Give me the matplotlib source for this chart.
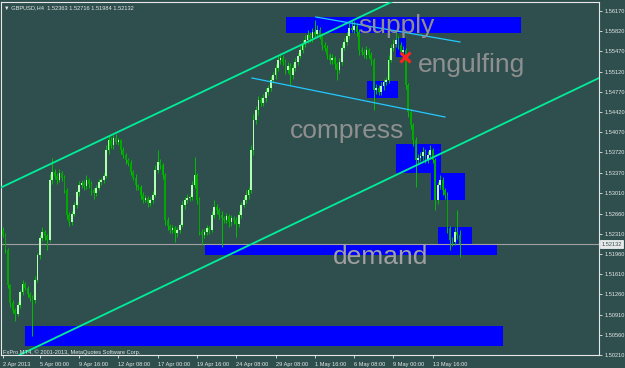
import numpy as np
import matplotlib
matplotlib.use("Agg")
import matplotlib.pyplot as plt
import matplotlib.transforms as mtransforms

# GBPUSD H4 candles, 2 Apr 2013 12:00 .. 15 May 2013
first_open = 1.5238
closes = [
    1.5229, 1.5203, 1.5142, 1.5111, 1.5099, 1.5092, 1.5108, 1.5130, 1.5144, 1.5137,
    1.5127, 1.5120, 1.5116, 1.5151, 1.5194, 1.5224, 1.5234, 1.5227, 1.5220, 1.5324,
    1.5338, 1.5331, 1.5324, 1.5336, 1.5328, 1.5307, 1.5264, 1.5251, 1.5265, 1.5281,
    1.5303, 1.5315, 1.5319, 1.5314, 1.5324, 1.5317, 1.5307, 1.5302, 1.5310, 1.5321,
    1.5324, 1.5331, 1.5376, 1.5393, 1.5385, 1.5397, 1.5390, 1.5393, 1.5376, 1.5367,
    1.5359, 1.5354, 1.5338, 1.5328, 1.5315, 1.5312, 1.5298, 1.5290, 1.5293, 1.5284,
    1.5290, 1.5298, 1.5341, 1.5355, 1.5350, 1.5333, 1.5255, 1.5244, 1.5238, 1.5241,
    1.5232, 1.5238, 1.5246, 1.5281, 1.5290, 1.5293, 1.5295, 1.5315, 1.5333, 1.5290,
    1.5234, 1.5229, 1.5234, 1.5241, 1.5238, 1.5264, 1.5277, 1.5272, 1.5264, 1.5258,
    1.5255, 1.5262, 1.5251, 1.5258, 1.5255, 1.5248, 1.5264, 1.5281, 1.5290, 1.5298,
    1.5307, 1.5376, 1.5428, 1.5445, 1.5463, 1.5458, 1.5466, 1.5477, 1.5484, 1.5497,
    1.5506, 1.5518, 1.5532, 1.5536, 1.5529, 1.5515, 1.5522, 1.5506, 1.5518, 1.5529,
    1.5539, 1.5549, 1.5560, 1.5567, 1.5575, 1.5570, 1.5581, 1.5577, 1.5584, 1.5574,
    1.5558, 1.5553, 1.5541, 1.5532, 1.5536, 1.5525, 1.5515, 1.5529, 1.5553, 1.5563,
    1.5574, 1.5588, 1.5584, 1.5591, 1.5581, 1.5549, 1.5546, 1.5541, 1.5549, 1.5541,
    1.5532, 1.5480, 1.5484, 1.5477, 1.5487, 1.5494, 1.5497, 1.5532, 1.5553, 1.5560,
    1.5567, 1.5558, 1.5546, 1.5549, 1.5489, 1.5442, 1.5419, 1.5393, 1.5359, 1.5362,
    1.5366, 1.5373, 1.5359, 1.5367, 1.5376, 1.5359, 1.5290, 1.5315, 1.5324, 1.5307,
    1.5298, 1.5241, 1.5220, 1.5217, 1.5234, 1.5229, 1.52132,
]
# wick lengths in pips above / below the body
upper_wick = [
    5, 3, 4, 2, 6, 3, 5, 4, 7, 3,
    4, 3, 5, 6, 4, 5, 8, 3, 4, 10,
    24, 6, 5, 8, 4, 5, 3, 4, 6, 5,
    4, 7, 5, 6, 8, 4, 5, 3, 6, 5,
    4, 6, 8, 9, 5, 5, 6, 4, 3, 5,
    4, 3, 5, 4, 6, 3, 4, 5, 6, 3,
    4, 7, 10, 21, 5, 4, 3, 5, 4, 6,
    3, 5, 4, 6, 5, 7, 4, 8, 31, 3,
    4, 5, 6, 5, 4, 7, 13, 5, 4, 6,
    4, 5, 3, 6, 4, 5, 7, 5, 6, 8,
    5, 9, 10, 8, 6, 5, 7, 6, 5, 8,
    6, 7, 9, 8, 5, 4, 6, 5, 7, 6,
    5, 7, 6, 8, 9, 5, 7, 20, 8, 5,
    4, 6, 5, 4, 6, 3, 4, 7, 6, 8,
    7, 9, 13, 8, 5, 4, 6, 5, 7, 4,
    5, 3, 6, 5, 7, 6, 5, 8, 7, 9,
    17, 6, 5, 8, 4, 3, 5, 4, 6, 8,
    7, 9, 5, 8, 9, 4, 3, 6, 8, 5,
    4, 5, 4, 6, 9, 38, 8,
]
lower_wick = [
    4, 6, 5, 7, 5, 12, 4, 6, 5, 4,
    6, 5, 62, 5, 4, 6, 5, 7, 17, 4,
    6, 5, 7, 4, 6, 5, 8, 7, 5, 4,
    5, 6, 4, 7, 5, 6, 8, 10, 5, 4,
    6, 5, 4, 6, 5, 7, 4, 5, 6, 5,
    7, 5, 6, 4, 8, 5, 7, 6, 4, 7,
    5, 6, 4, 5, 6, 7, 9, 7, 6, 5,
    15, 6, 5, 4, 7, 5, 6, 5, 4, 8,
    6, 17, 5, 6, 7, 4, 5, 6, 7, 50,
    6, 5, 8, 6, 7, 23, 5, 6, 4, 5,
    6, 5, 8, 7, 9, 6, 5, 7, 6, 5,
    4, 6, 5, 7, 6, 8, 5, 17, 6, 5,
    6, 4, 5, 6, 5, 7, 6, 5, 4, 6,
    8, 5, 7, 7, 6, 9, 18, 5, 6, 4,
    5, 6, 4, 5, 7, 8, 6, 5, 7, 6,
    8, 35, 7, 6, 5, 7, 6, 5, 4, 6,
    5, 7, 6, 5, 8, 9, 6, 10, 47, 6,
    5, 7, 6, 5, 7, 6, 18, 7, 6, 8,
    6, 9, 17, 8, 6, 7, 23,
]

# zones drawn on the chart: (bar from, bar to, price low, price high)
zone_x0 = [115.2, 160.0, 148.2, 160.0, 174.3, 177.1, 82.2, 9.0]
zone_x1 = [210.9, 164.1, 160.8, 178.3, 188.1, 191.0, 201.1, 203.6]
zone_lo = [1.55794, 1.55373, 1.54662, 1.53363, 1.52895, 1.52115, 1.51942, 1.50365]
zone_hi = [1.56071, 1.55702, 1.54957, 1.53865, 1.53363, 1.52427, 1.52115, 1.50711]

# trend lines: channel rays (green) and two short segments (cyan)
channel_up = [(-1.22, 1.53103), (153.5, 1.56231)]
channel_dn = [(11.0, 1.50296), (242.7, 1.55009)]
seg_top = [(127.4, 1.56066), (186.1, 1.55633)]
seg_bot = [(101.4, 1.55009), (180.0, 1.54333)]

last_price = 1.52132
engulf_bar, engulf_price = 163.7, 1.55373

ytick_vals = [1.56170, 1.55820, 1.55470, 1.55120, 1.54770, 1.54420, 1.54070, 1.53720,
              1.53370, 1.53010, 1.52660, 1.52310, 1.51960, 1.51610, 1.51260, 1.50910,
              1.50560, 1.50210]
xtick_bars = [0, 15, 31, 47, 63, 79, 95, 111, 127, 143, 159, 175]
xtick_labels = ["2 Apr 2013", "5 Apr 00:00", "9 Apr 16:00", "12 Apr 08:00", "17 Apr 00:00",
                "19 Apr 16:00", "24 Apr 08:00", "29 Apr 08:00", "1 May 16:00", "6 May 08:00",
                "9 May 00:00", "13 May 16:00"]

BG = "#2f4f4f"
FG = "#e8e8e8"
SMALL = ["Liberation Sans", "DejaVu Sans"]
FS = 4.1

plt.rcParams["font.family"] = SMALL

closes = np.array(closes)
opens = np.r_[first_open, closes[:-1]]
highs = np.maximum(opens, closes) + np.array(upper_wick) * 0.0001
lows = np.minimum(opens, closes) - np.array(lower_wick) * 0.0001
bars = np.arange(len(closes))

fig = plt.figure(figsize=(6.25, 3.68), dpi=100, facecolor=BG)
W, H = 625, 368
ax = fig.add_axes([1 / W, 1 - 355 / H, 598 / W, 353 / H], facecolor=BG)
ax.set_xlim(-0.81, 242.7)
ax.set_ylim(1.50209, 1.56326)

# zones
for x0, x1, lo, hi in zip(zone_x0, zone_x1, zone_lo, zone_hi):
    ax.add_patch(plt.Rectangle((x0, lo), x1 - x0, hi - lo, facecolor="#0000ff",
                               edgecolor="none", zorder=1))

ax.axhline(last_price, color="#a0a0a0", lw=0.8, zorder=1.5)

# candles
up = closes >= opens
ax.vlines(bars, lows, highs, color="#00c000", lw=0.7, zorder=3)
body_lo = np.minimum(opens, closes)
body_h = np.maximum(np.abs(closes - opens), 0.00008)
ax.bar(bars[up], body_h[up], bottom=body_lo[up], width=0.7, color="#b0ffb0",
       edgecolor="none", zorder=3.2)
ax.bar(bars[~up], body_h[~up], bottom=body_lo[~up], width=0.7, color="#00a800",
       edgecolor="none", zorder=3.2)

# trend lines
ax.axline(*channel_up, color="#00ee99", lw=1.3, zorder=4)
ax.axline(*channel_dn, color="#00ee99", lw=1.3, zorder=4)
for seg in (seg_top, seg_bot):
    ax.plot([seg[0][0], seg[1][0]], [seg[0][1], seg[1][1]], color="#22c8ff", lw=0.9, zorder=4)

ax.plot(engulf_bar, engulf_price, marker="x", color="#ff2020", ms=7, mew=2.2, zorder=5)

# labels
big = dict(family="Liberation Sans", fontsize=19, color="#8f8f8f", va="baseline",
           ha="left", zorder=6)
ax.text(144.5, 1.55789, "supply", **big)
ax.text(169.0, 1.55113, "engulfing", **big)
ax.text(116.9, 1.53969, "compress", **big)
ax.text(134.4, 1.51786, "demand", **{**big, "color": "#a0a0a0"})

# axes styling
for s in ax.spines.values():
    s.set_color(FG)
    s.set_linewidth(0.8)
ax.yaxis.tick_right()
ax.set_yticks(ytick_vals, [f"{v:.5f}" for v in ytick_vals])
ax.set_xticks(xtick_bars, xtick_labels, ha="left")
ax.tick_params(axis="both", colors=FG, labelsize=FS, length=2.2, width=0.6, pad=1.5)
ax.tick_params(axis="x", pad=2.5)

trans = mtransforms.blended_transform_factory(ax.transAxes, ax.transData)
ax.text(1.004, last_price, f"{last_price:.5f}", transform=trans, fontsize=FS,
        color=BG, va="center", ha="left",
        bbox=dict(boxstyle="square,pad=0.2", facecolor="#e8e8e8", edgecolor="#ffffff", lw=0.5))

fig.text(4 / W, 1 - 8 / H, "\u25bc GBPUSD,H4  1.52363 1.52716 1.51984 1.52132",
         fontsize=FS, color=FG, va="center", ha="left")
fig.text(3 / W, 1 - 352 / H, "FxPro MT4, \u00a9 2001-2013, MetaQuotes Software Corp.",
         fontsize=FS, color=FG, va="center", ha="left")

fig.savefig("out.png", dpi=100, facecolor=BG)
